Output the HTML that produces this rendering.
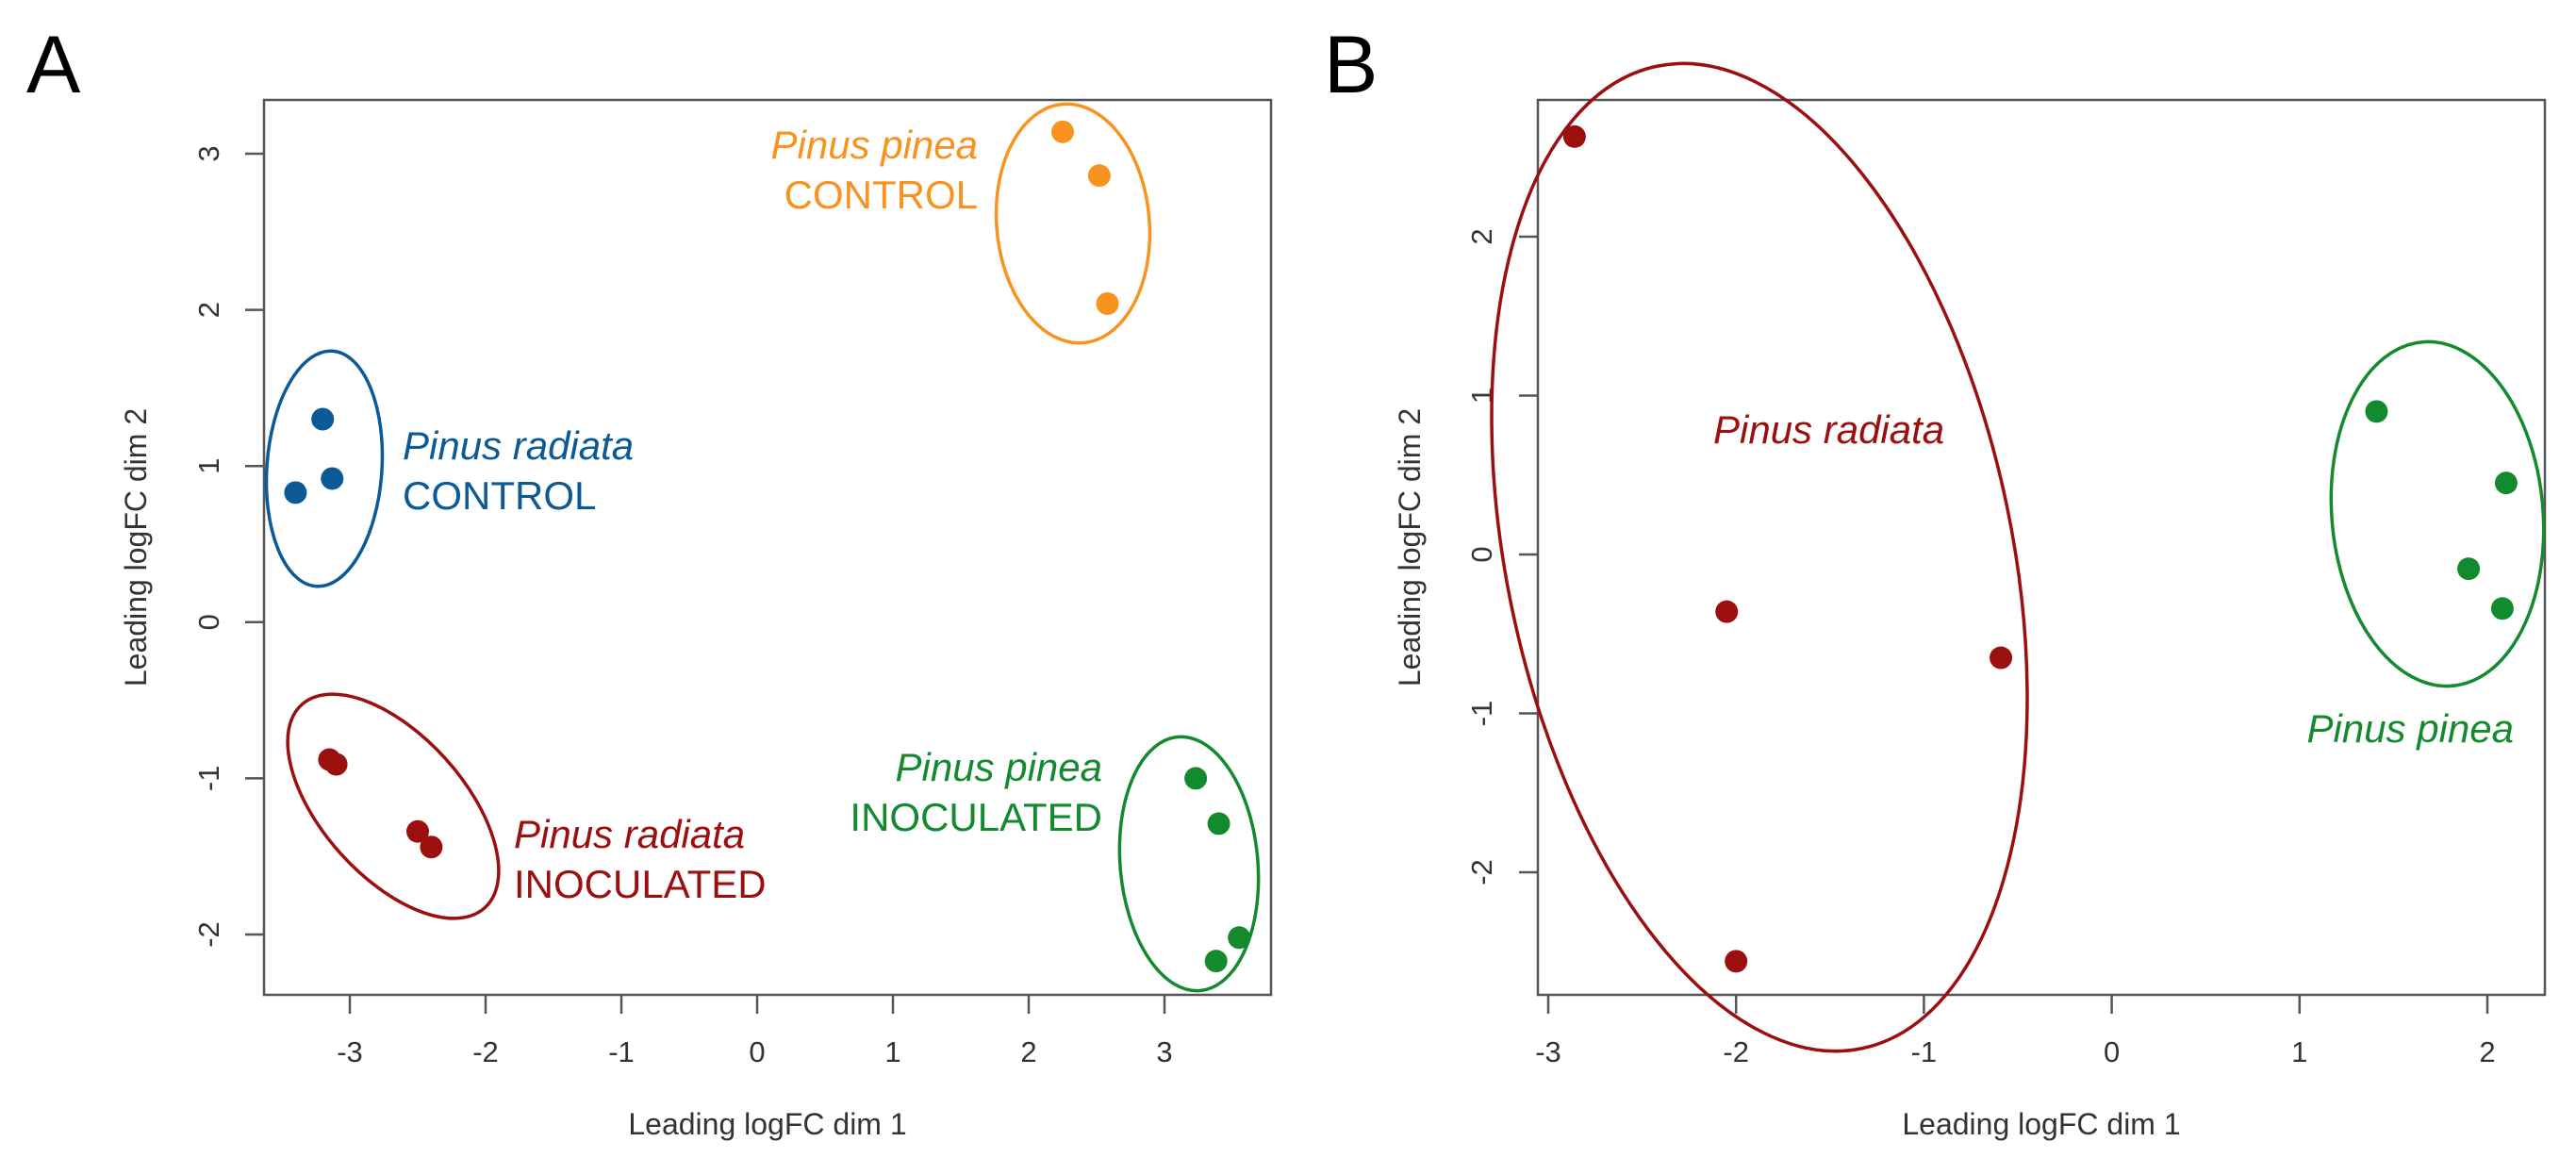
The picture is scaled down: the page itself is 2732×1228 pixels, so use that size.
<!DOCTYPE html>
<html><head><meta charset="utf-8"><style>
html,body{margin:0;padding:0;background:#fff;overflow:hidden;}
svg{display:block;font-family:"Liberation Sans",sans-serif;}
</style></head><body>
<svg id="fig" width="2732" height="1228" viewBox="0 0 2732 1228"></svg>
<script>
// Panel A data
const aXTicks = [-3,-2,-1,0,1,2,3];
const aYTicks = [-2,-1,0,1,2,3];
const aBlueX = [-3.2,-3.4,-3.13];       const aBlueY = [1.3,0.83,0.92];
const aOrangeX = [2.25,2.52,2.58];      const aOrangeY = [3.14,2.86,2.04];
const aRedX = [-3.15,-3.1,-2.5,-2.4];   const aRedY = [-0.88,-0.91,-1.34,-1.44];
const aGreenX = [3.23,3.4,3.55,3.38];   const aGreenY = [-1.0,-1.29,-2.02,-2.17];
// Panel B data
const bXTicks = [-3,-2,-1,0,1,2];
const bYTicks = [-2,-1,0,1,2];
const bRedX = [-2.86,-2.05,-0.59,-2.0];  const bRedY = [2.63,-0.36,-0.65,-2.56];
const bGreenX = [1.41,2.1,1.9,2.08];     const bGreenY = [0.9,0.45,-0.09,-0.34];

const NS="http://www.w3.org/2000/svg";
const svg=document.getElementById('fig');
function mk(tag,attrs,parent){const e=document.createElementNS(NS,tag);for(const k in attrs)e.setAttribute(k,attrs[k]);(parent||svg).appendChild(e);return e;}
const C={blue:'#0b5a96',orange:'#f7931e',red:'#9b0f0f',green:'#138a2e'};

function panel(p){
  const g=mk('g',{});
  
  
  const box=mk('rect',{x:p.L,y:p.T,width:p.R-p.L,height:p.B-p.T,fill:'none',stroke:'#555','stroke-width':2.5},g);
  
  
  const sx=v=>p.x0+v*p.kx, sy=v=>p.y0-v*p.ky;
  p.xt.forEach(t=>{
    const x=sx(t);
    const l=mk('line',{x1:x,x2:x,y1:p.B,y2:p.B+20,stroke:'#555','stroke-width':2.5},g);
    
    
    const tx=mk('text',{x:x,y:1126,'text-anchor':'middle','font-size':31,fill:'#333'},g);
    tx.textContent=t;
    
    
  });
  p.yt.forEach(t=>{
    const y=sy(t);
    const l=mk('line',{x1:p.L-20,x2:p.L,y1:y,y2:y,stroke:'#555','stroke-width':2.5},g);
    
    
    const tx=mk('text',{x:0,y:0,'text-anchor':'middle','font-size':31,fill:'#333',transform:`translate(${p.ytx},${y}) rotate(-90)`},g);
    tx.textContent=t;
    
    
  });
  const xt=mk('text',{x:(p.L+p.R)/2,y:1203,'text-anchor':'middle','font-size':32,fill:'#333'},g);
  xt.textContent='Leading logFC dim 1';
  
  
  const yt=mk('text',{x:0,y:0,'text-anchor':'middle','font-size':32,fill:'#333',transform:`translate(${p.ytt},${(p.T+p.B)/2}) rotate(-90)`},g);
  yt.textContent='Leading logFC dim 2';
  
  
  const lt=mk('text',{x:p.lx,y:98,'font-size':86,fill:'#000'},g);
  lt.textContent=p.letter;
  
  
  p.ell.forEach(e=>{
    const el=mk('ellipse',{cx:e[0],cy:e[1],rx:e[2],ry:e[3],transform:`rotate(${e[4]} ${e[0]} ${e[1]})`,fill:'none',stroke:e[5],'stroke-width':3.5},g);
    
    
  });
  p.series.forEach(s=>{
    s[0].forEach((v,i)=>{
      const c=mk('circle',{cx:sx(v),cy:sy(s[1][i]),r:12,fill:s[2]},g);
      
      
    });
  });
  p.labels.forEach(l=>{
    const a=mk('text',{x:l[0],y:l[1],'text-anchor':l[3],'font-size':42,'font-style':'italic',fill:l[2]},g);
    a.textContent=l[4];
    
    
    if(l[5]){
      const b=mk('text',{x:l[0],y:l[1]+53,'text-anchor':l[3],'font-size':42,fill:l[2]},g);
      b.textContent=l[5];
      
      
    }
  });
}

panel({name:'panel-a',letter:'A',lx:28,L:280,T:106,R:1348,B:1055,x0:803,kx:144,y0:659.8,ky:165.6,xt:aXTicks,yt:aYTicks,ytx:232,ytt:155,
  series:[[aBlueX,aBlueY,C.blue],[aOrangeX,aOrangeY,C.orange],[aRedX,aRedY,C.red],[aGreenX,aGreenY,C.green]],
  ell:[[344,497,61,125,4,C.blue],[1138,237,81,127,-5,C.orange],[417,855,145,75,48,C.red],[1261,916,73,135,-5,C.green]],
  labels:[[1037,168,C.orange,'end','Pinus pinea','CONTROL'],[427,487,C.blue,'start','Pinus radiata','CONTROL'],
          [545,899,C.red,'start','Pinus radiata','INOCULATED'],[1169,828,C.green,'end','Pinus pinea','INOCULATED']]});

panel({name:'panel-b',letter:'B',lx:1404,L:1631,T:106,R:2699,B:1055,x0:2239.6,kx:199.2,y0:588,ky:168.5,xt:bXTicks,yt:bYTicks,ytx:1582,ytt:1506,
  series:[[bRedX,bRedY,C.red],[bGreenX,bGreenY,C.green]],
  ell:[[1866,591,268,532,-11.8,C.red],[2585,545,112,183,-5,C.green]],
  labels:[[1817,470,C.red,'start','Pinus radiata',null],[2666,787,C.green,'end','Pinus pinea',null]]});
</script>
</body></html>
